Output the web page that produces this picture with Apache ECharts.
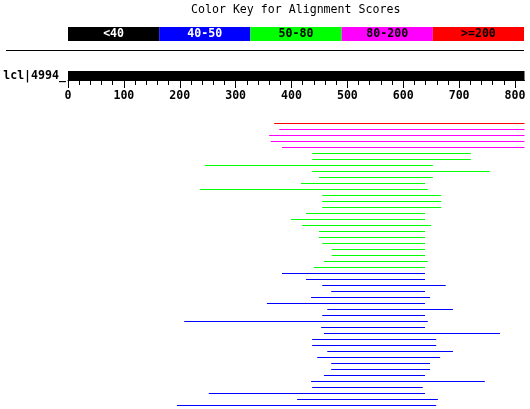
<!DOCTYPE html>
<html><head><meta charset="utf-8">
<script src="https://cdn.jsdelivr.net/npm/echarts@6/dist/echarts.min.js"></script>
<style>html,body{margin:0;padding:0;background:#fff}#c{width:530px;height:409px}</style>
</head><body><div id="c"></div>
<script>
const chartTitle = 'Color Key for Alignment Scores';
const queryName = 'lcl|4994_';
const queryLength = 817;
const axisTickValues = [0, 100, 200, 300, 400, 500, 600, 700, 800];
const axisMinorTickValues = [0, 20, 40, 60, 80, 100, 120, 140, 160, 180, 200, 220, 240, 260, 280, 300, 320, 340, 360, 380, 400, 420, 440, 460, 480, 500, 520, 540, 560, 580, 600, 620, 640, 660, 680, 700, 720, 740, 760, 780, 800];
const keyLabels = ['<40', '40-50', '50-80', '80-200', '>=200'];
const keyColors = ['#000000', '#0000ff', '#00ff00', '#ff00ff', '#ff0000'];
const keyTextColors = ['#ffffff', '#ffffff', '#000000', '#000000', '#000000'];
// score class index into keyColors (0:<40, 1:40-50, 2:50-80, 3:80-200, 4:>=200)
const hitStarts = [369, 378, 360, 363, 383, 437, 437, 245, 437, 449, 417, 236, 455, 455, 455, 426,
  399, 419, 449, 449, 455, 472, 472, 458, 440, 383, 426, 455, 471, 435, 356, 464,
  455, 208, 453, 458, 437, 437, 464, 446, 471, 471, 458, 435, 437, 252, 410, 195];
const hitEnds = [817, 817, 817, 817, 817, 721, 721, 653, 755, 653, 639, 644, 668, 668, 668, 639,
  639, 650, 639, 639, 639, 639, 639, 644, 639, 639, 639, 676, 639, 648, 639, 689,
  639, 644, 639, 773, 659, 659, 689, 666, 648, 648, 639, 746, 635, 639, 662, 659];
const hitScoreClass = [4, 3, 3, 3, 3, 2, 2, 2, 2, 2, 2, 2, 2, 2, 2, 2,
  2, 2, 2, 2, 2, 2, 2, 2, 2, 1, 1, 1, 1, 1, 1, 1,
  1, 1, 1, 1, 1, 1, 1, 1, 1, 1, 1, 1, 1, 1, 1, 1];

const FONT = 'DejaVu Sans Mono';
const rowCats = hitStarts.map((_, i) => String(i + 1));
const hitData = hitStarts.map((s, i) => [i, s, hitEnds[i], hitScoreClass[i]]);

const chart = echarts.init(document.getElementById('c'), null, {renderer: 'canvas'});
chart.setOption({
  animation: false,
  backgroundColor: '#ffffff',
  graphic: [
    {type: 'text', left: 191, top: 4, style: {text: chartTitle, fill: '#000', font: '11.6px "' + FONT + '"'}},
    {type: 'line', shape: {x1: 6, y1: 50.5, x2: 524, y2: 50.5}, style: {stroke: '#000', lineWidth: 1}}
  ],
  grid: [
    {left: 68, right: 6, top: 27, height: 14},
    {left: 68, right: 5.5, top: 71, height: 9},
    {left: 68, right: 5.5, top: 120.5, height: 288}
  ],
  xAxis: [
    {gridIndex: 0, type: 'category', data: keyLabels, show: false, boundaryGap: true},
    {gridIndex: 1, type: 'value', min: 0, max: queryLength, position: 'bottom',
      axisLine: {show: true, lineStyle: {color: '#000', width: 1}},
      axisTick: {show: true, length: 8, customValues: axisTickValues, lineStyle: {color: '#000'}},
      axisLabel: {show: true, customValues: axisTickValues, margin: 10, color: '#000',
        fontFamily: FONT, fontWeight: 'bold', fontSize: 11.6},
      splitLine: {show: false}},
    {gridIndex: 1, type: 'value', min: 0, max: queryLength, position: 'bottom', offset: 0,
      axisLine: {show: false},
      axisTick: {show: true, length: 5, customValues: axisMinorTickValues, lineStyle: {color: '#000'}},
      axisLabel: {show: false}, splitLine: {show: false}},
    {gridIndex: 2, type: 'value', min: 0, max: queryLength, show: false}
  ],
  yAxis: [
    {gridIndex: 0, type: 'value', min: 0, max: 1, show: false},
    {gridIndex: 1, type: 'category', data: [queryName],
      axisLine: {show: false}, axisTick: {show: false},
      axisLabel: {margin: 2, color: '#000', fontFamily: FONT, fontWeight: 'bold', fontSize: 11.6}},
    {gridIndex: 2, type: 'category', data: rowCats, inverse: true, show: false}
  ],
  series: [
    {type: 'bar', xAxisIndex: 0, yAxisIndex: 0, barWidth: '100%', barCategoryGap: 0,
      data: keyLabels.map((l, i) => ({value: 1, itemStyle: {color: keyColors[i]},
        label: {color: keyTextColors[i]}})),
      label: {show: true, position: 'inside', formatter: p => keyLabels[p.dataIndex],
        fontFamily: FONT, fontWeight: 'bold', fontSize: 11.6}},
    {type: 'bar', xAxisIndex: 1, yAxisIndex: 1, barWidth: 9, data: [queryLength],
      itemStyle: {color: '#000'}},
    {type: 'custom', xAxisIndex: 3, yAxisIndex: 2, data: hitData,
      encode: {x: [1, 2], y: 0},
      renderItem: function (params, api) {
        const idx = api.value(0);
        const p1 = api.coord([api.value(1), idx]);
        const p2 = api.coord([api.value(2), idx]);
        return {type: 'line', shape: {x1: p1[0], y1: p1[1], x2: p2[0], y2: p2[1]},
          style: {stroke: keyColors[api.value(3)], lineWidth: 1}};
      }}
  ]
});
</script>
</body></html>
